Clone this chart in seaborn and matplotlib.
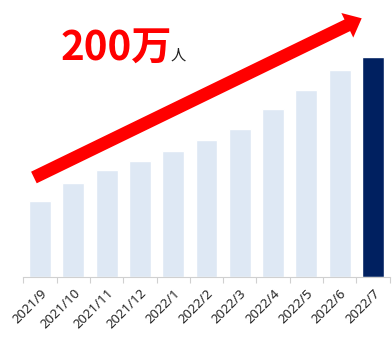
import matplotlib
matplotlib.use("Agg")
import matplotlib.pyplot as plt
from matplotlib.patches import FancyArrow
from matplotlib.transforms import IdentityTransform
import seaborn as sns

sns.set_theme(style="white")
plt.rcParams["font.family"] = ["Noto Sans CJK JP", "DejaVu Sans"]

# --- data (万人) ---
months = ["2021/9", "2021/10", "2021/11", "2021/12", "2022/1", "2022/2",
          "2022/3", "2022/4", "2022/5", "2022/6", "2022/7"]
users = [69, 85, 97, 105, 114, 124, 134, 152.5, 170, 188, 200]
light_blue = "#DEE8F4"
dark_blue = "#002060"
bar_colors = [light_blue] * (len(months) - 1) + [dark_blue]

fig = plt.figure(figsize=(3.92, 3.62), dpi=100)
ax = fig.add_axes([0.0596, 0.2348, 0.9344, 0.6086])

sns.barplot(x=months, y=users, hue=months, palette=bar_colors,
            legend=False, width=0.66, saturation=1, ax=ax)

ax.set_ylim(0, 200)
ax.set_xlim(-0.5, len(months) - 0.5)
ax.set_yticks([])
ax.set_ylabel("")
for s in ["top", "right", "left"]:
    ax.spines[s].set_visible(False)
ax.spines["bottom"].set_color("#d0d0d0")
ax.spines["bottom"].set_linewidth(0.8)

# category labels, with tick marks between categories
ax.set_xticks(range(len(months)))
ax.set_xticklabels(months, rotation=45, ha="right", rotation_mode="anchor",
                   fontsize=9.5, color="#262626", family=["Noto Sans", "DejaVu Sans"])
ax.tick_params(axis="x", which="major", length=0, pad=7)
ax.set_xticks([i - 0.5 for i in range(len(months) + 1)], minor=True)
ax.tick_params(axis="x", which="minor", length=4, width=0.8,
               color="#d0d0d0", bottom=True)

# red growth arrow (figure pixels)
arrow = FancyArrow(33.9, 184.5, 327.8, 159.2, width=12.9, head_width=27.3,
                   head_length=16, length_includes_head=True,
                   color="#FF0000", linewidth=0, transform=IdentityTransform())
fig.patches.append(arrow)

fig.text(61, 302, "200万", color="#FF0000", fontsize=29, fontweight="bold",
         va="baseline", ha="left", transform=IdentityTransform())
fig.text(171, 302, "人", color="#222222", fontsize=11,
         va="baseline", ha="left", transform=IdentityTransform())

fig.savefig("out.png", dpi=100)
